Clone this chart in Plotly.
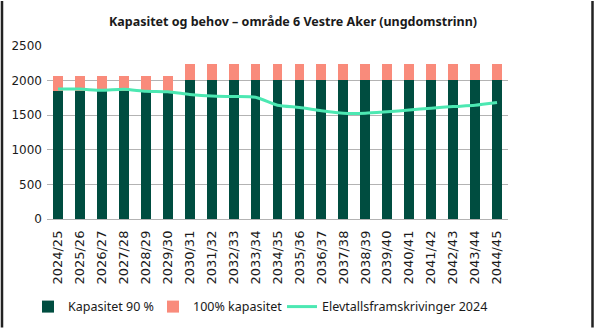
import plotly.graph_objects as go

years = ["2024/25", "2025/26", "2026/27", "2027/28", "2028/29", "2029/30", "2030/31",
         "2031/32", "2032/33", "2033/34", "2034/35", "2035/36", "2036/37", "2037/38",
         "2038/39", "2039/40", "2040/41", "2041/42", "2042/43", "2043/44", "2044/45"]
kap90 = [1854, 1854, 1854, 1854, 1854, 1854, 2012, 2012, 2012, 2012, 2012, 2012, 2012, 2012,
         2012, 2012, 2012, 2012, 2012, 2012, 2012]
kap100_extra = [206, 206, 206, 206, 206, 206, 224, 224, 224, 224, 224, 224, 224, 224,
                224, 224, 224, 224, 224, 224, 224]
elevtall = [1877, 1877, 1860, 1875, 1846, 1838, 1800, 1776, 1770, 1760, 1645, 1612, 1565,
            1528, 1528, 1550, 1574, 1602, 1625, 1643, 1682]

ML, MR, MT, MB = 47, 86, 46, 111
W, H = 594, 334
PW = W - ML - MR
PH = H - MT - MB

fig = go.Figure()
fig.add_trace(go.Bar(x=years, y=kap90, name="Kapasitet 90 %", marker_color="#004D40",
                     marker_line_width=0, legend="legend"))
fig.add_trace(go.Bar(x=years, y=kap100_extra, name="100% kapasitet", marker_color="#F98B7B",
                     marker_line_width=0, legend="legend2"))
fig.add_trace(go.Scatter(x=years, y=elevtall, name="Elevtallsframskrivinger 2024", mode="lines",
                         line=dict(color="#4CE8B2", width=3, shape="spline", smoothing=0.6),
                         legend="legend3"))

def leg(px):
    return dict(orientation="h", x=(px - ML) / PW, xanchor="left",
                y=(223 - 313) / PH, yanchor="middle", bgcolor="rgba(0,0,0,0)",
                font=dict(family="Noto Sans", size=12.5, color="#1a1a1a"), itemwidth=30)

fig.update_layout(
    width=W, height=H,
    margin=dict(l=ML, r=MR, t=MT, b=MB),
    barmode="stack", bargap=0.55,
    plot_bgcolor="white", paper_bgcolor="white",
    font=dict(family="Noto Sans", size=13, color="#1a1a1a"),
    title=dict(text="<b>Kapasitet og behov – område 6 Vestre Aker (ungdomstrinn)</b>",
               x=293 / W, xanchor="center", y=1 - 22 / H, yanchor="middle",
               font=dict(family="Noto Sans", size=12.5, color="#1a1a1a")),
    xaxis=dict(tickangle=-90, tickfont=dict(family="DejaVu Sans", size=13, color="#1a1a1a"),
               showgrid=False, ticks="", showline=False, ticklabelstandoff=8),
    yaxis=dict(range=[0, 2500], dtick=500, showgrid=True, gridcolor="#b3b3b3", gridwidth=1,
               zeroline=True, zerolinecolor="#b3b3b3", zerolinewidth=1,
               tickfont=dict(family="DejaVu Sans", size=12, color="#1a1a1a"), ticks="",
               ticklabelstandoff=4),
    legend=leg(28), legend2=leg(153), legend3=leg(282),
    showlegend=True,
)

# thin frame lines at the left and right edges of the image
for px in (2, 592.5):
    fig.add_shape(type="line", xref="paper", yref="paper",
                  x0=(px - ML) / PW, x1=(px - ML) / PW, y0=-MB / PH, y1=1 + MT / PH,
                  line=dict(color="#222222", width=2.5))

fig.write_html("out.html")
